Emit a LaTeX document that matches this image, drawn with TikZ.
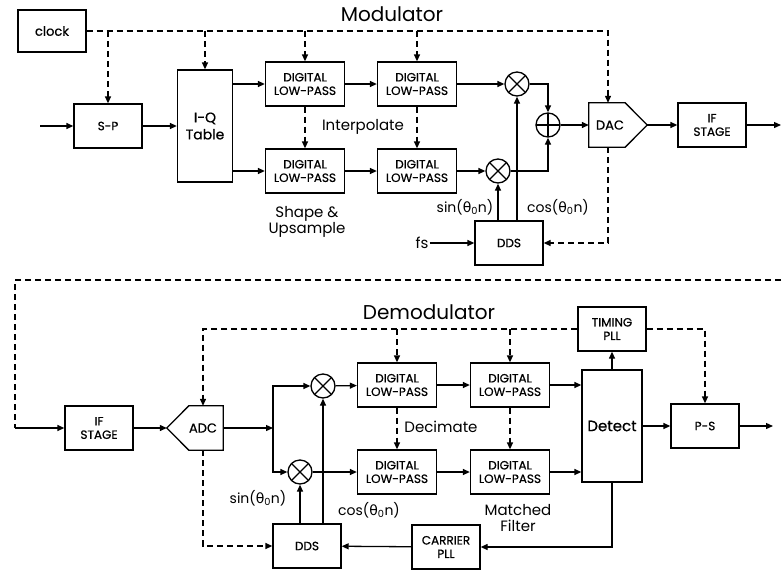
\documentclass[tikz,border=0pt]{standalone}
\usepackage{fontspec}
\setmainfont{Poppins}
\newfontfamily\boxfont[FakeBold=0.6]{Poppins}
\newfontfamily\grkfont{DejaVu Sans}
\usetikzlibrary{arrows.meta,positioning}
\newcommand{\phase}[1]{#1({\grkfont θ}\textsubscript{0}n)}
\tikzset{
  mdbox/.style={
    draw,
    line width=1.3pt,
    align=center,
    inner sep=1pt,
    minimum width=68pt,
    minimum height=44pt,
    font=\boxfont\fontsize{12}{13.5}\selectfont
  },
  mdlpf/.style={mdbox,minimum width=79pt},
  mdconv/.style={
    inner sep=0pt,
    minimum width=58pt,
    minimum height=44pt,
    font=\boxfont\fontsize{13}{15}\selectfont
  },
  mdmix/.style={
    circle,
    draw,
    line width=1.3pt,
    minimum size=24pt,
    inner sep=0pt,
    path picture={\draw[line width=1.3pt]
      (path picture bounding box.north west) -- (path picture bounding box.south east)
      (path picture bounding box.north east) -- (path picture bounding box.south west);}
  },
  mdsum/.style={
    circle,
    draw,
    line width=1.3pt,
    minimum size=24pt,
    inner sep=0pt,
    path picture={\draw[line width=1.3pt]
      (path picture bounding box.north) -- (path picture bounding box.south)
      (path picture bounding box.east) -- (path picture bounding box.west);}
  },
  mdtitle/.style={font=\fontsize{20}{22}\selectfont},
  mdnote/.style={font=\fontsize{15}{16.5}\selectfont,align=center,inner sep=1pt},
  mdtrig/.style={font=\fontsize{14}{16}\selectfont,inner sep=1pt},
  mdedge/.style={line width=1.3pt},
  mdflow/.style={-{Triangle[length=7pt,width=6pt]},line width=1.3pt},
  mdclk/.style={line width=1.3pt,dash pattern=on 6pt off 4pt},
  mdclkflow/.style={mdclk,-{Triangle[length=7pt,width=6pt]}}
}

\begin{document}
\begin{tikzpicture}[x=1pt,y=-1pt]
  \useasboundingbox (0,0) rectangle (782,571);
  % modulator
  \node[mdtitle] (modtitle) at (392,14) {Modulator};
  \node[mdbox,minimum height=42pt,font=\boxfont\fontsize{13}{15}\selectfont] (clock) at (52,31) {clock};
  \node[mdbox] (sp) at (108,126) {S-P};
  \node[mdbox,minimum width=55pt,minimum height=112pt,font=\boxfont\fontsize{14}{17}\selectfont] (iq) at (205,126) {I-Q\\Table};
  \node[mdlpf] (lpa) at (305,84) {DIGITAL\\LOW-PASS};
  \node[mdlpf] (lpb) at (417,84) {DIGITAL\\LOW-PASS};
  \node[mdlpf] (lpc) at (305,171) {DIGITAL\\LOW-PASS};
  \node[mdlpf] (lpd) at (417,171) {DIGITAL\\LOW-PASS};
  \node[mdmix] (mixa) at (517,84) {};
  \node[mdmix] (mixb) at (498,171) {};
  \node[mdsum] (sum) at (548,125) {};
  \node[mdconv] (dac) at (618,125) {\hspace*{-16pt}DAC};
  \draw[mdedge] (dac.north west) -- ([xshift=-22pt]dac.north east) -- (dac.east)
    -- ([xshift=-22pt]dac.south east) -- (dac.south west) -- cycle;
  \node[mdbox] (ifmod) at (712,125) {IF\\STAGE};
  \node[mdbox] (ddsmod) at (509,243) {DDS};
  \node[mdtrig,font=\fontsize{15}{16}\selectfont] (fs) at (422,243) {fs};
  \node[mdnote] (interp) at (363,127) {Interpolate};
  \node[mdnote] (shape) at (307,222) {Shape \&\\Upsample};
  \node[mdtrig] (sinmod) at (465,207) {\phase{sin}};
  \node[mdtrig] (cosmod) at (558,207) {\phase{cos}};
  \coordinate (modin) at (40,126);
  \coordinate (modout) at (781,125);

  \draw[mdflow] (modin) -- (sp);
  \draw[mdflow] (sp) -- (iq);
  \draw[mdflow] (iq.east |- lpa) -- (lpa);
  \draw[mdflow] (iq.east |- lpc) -- (lpc);
  \draw[mdflow] (lpa) -- (lpb);
  \draw[mdflow] (lpc) -- (lpd);
  \draw[mdflow] (lpb) -- (mixa);
  \draw[mdflow] (lpd) -- (mixb);
  \draw[mdflow] (mixa) -| (sum);
  \draw[mdflow] (mixb) -| (sum);
  \draw[mdflow] (sum) -- (dac);
  \draw[mdflow] (dac) -- (ifmod);
  \draw[mdflow] (ifmod) -- (modout);
  \draw[mdflow] (ddsmod.north -| mixb) -- (mixb);
  \draw[mdflow] (ddsmod.north -| mixa) -- (mixa);
  \draw[mdflow] (fs) -- (ddsmod);
  \draw[mdclkflow] (clock) -| ([xshift=-10pt]dac.north);
  \draw[mdclkflow] (sp |- clock) -- (sp);
  \draw[mdclkflow] (iq |- clock) -- (iq);
  \draw[mdclkflow] (lpa |- clock) -- (lpa);
  \draw[mdclkflow] (lpb |- clock) -- (lpb);
  \draw[mdclkflow] (lpa) -- (lpc);
  \draw[mdclkflow] (lpb) -- (lpd);
  \draw[mdclkflow] ([xshift=-10pt]dac.south) |- (ddsmod);

  % channel
  \coordinate (chanr) at (781,280);
  \coordinate (chanl) at (15,428);
  \draw[mdclk] (chanr) -| (chanl);

  % demodulator
  \node[mdtitle] (demtitle) at (429,312) {Demodulator};
  \node[mdbox] (ifdem) at (99,428) {IF\\STAGE};
  \node[mdconv,minimum width=56pt] (adc) at (195,428) {\hspace*{16pt}ADC};
  \draw[mdedge] (adc.north east) -- ([xshift=22pt]adc.north west) -- (adc.west)
    -- ([xshift=22pt]adc.south west) -- (adc.south east) -- cycle;
  \coordinate (split) at (273,428);
  \node[mdmix] (mixc) at (323,386) {};
  \node[mdmix] (mixd) at (300,472) {};
  \node[mdlpf] (lpe) at (397,385) {DIGITAL\\LOW-PASS};
  \node[mdlpf] (lpf) at (510,385) {DIGITAL\\LOW-PASS};
  \node[mdlpf] (lpg) at (397,472) {DIGITAL\\LOW-PASS};
  \node[mdlpf] (lph) at (510,472) {DIGITAL\\LOW-PASS};
  \node[mdbox,minimum width=60pt,minimum height=112pt,font=\boxfont\fontsize{15}{17}\selectfont] (detect) at (612,426) {Detect};
  \node[mdbox] (timing) at (612,329) {TIMING\\PLL};
  \node[mdbox] (ps) at (705,426) {P-S};
  \node[mdbox] (carrier) at (446,547) {CARRIER\\PLL};
  \node[mdbox] (ddsdem) at (307,546) {DDS};
  \node[mdnote] (decim) at (441,427) {Decimate};
  \node[mdnote] (matched) at (518,518) {Matched\\Filter};
  \node[mdtrig] (sindem) at (258,498) {\phase{sin}};
  \node[mdtrig] (cosdem) at (369,510) {\phase{cos}};
  \coordinate (demout) at (773,426);

  \draw[mdflow] (chanl) -- (ifdem);
  \draw[mdflow] (ifdem) -- (adc);
  \draw[mdflow] (adc) -- (split);
  \draw[mdflow] (split) |- (mixc);
  \draw[mdflow] (split) |- (mixd);
  \draw[mdflow] (mixc) -- (lpe);
  \draw[mdflow] (mixd) -- (lpg);
  \draw[mdflow] (lpe) -- (lpf);
  \draw[mdflow] (lpg) -- (lph);
  \draw[mdflow] (lpf) -- (lpf -| detect.west);
  \draw[mdflow] (lph) -- (lph -| detect.west);
  \draw[mdflow] (detect) -- (timing);
  \draw[mdflow] (detect) -- (ps);
  \draw[mdflow] (ps) -- (demout);
  \draw[mdflow] (detect) |- (carrier);
  \draw[mdflow] (carrier) -- (ddsdem);
  \draw[mdflow] (ddsdem.north -| mixd) -- (mixd);
  \draw[mdflow] (ddsdem.north -| mixc) -- (mixc);
  \draw[mdclkflow] (timing) -| ([xshift=8pt]adc.north);
  \draw[mdclkflow] (lpe |- timing) -- (lpe);
  \draw[mdclkflow] (lpf |- timing) -- (lpf);
  \draw[mdclkflow] (timing) -| (ps);
  \draw[mdclkflow] (lpe) -- (lpg);
  \draw[mdclkflow] (lpf) -- (lph);
  \draw[mdclkflow] ([xshift=8pt]adc.south) |- (ddsdem);
\end{tikzpicture}
\end{document}
